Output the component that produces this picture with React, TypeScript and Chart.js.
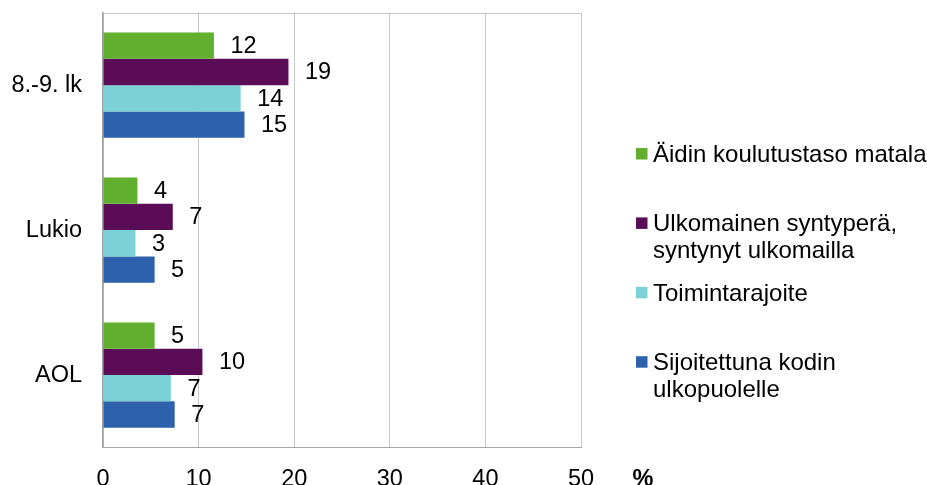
import React, { useEffect, useRef } from "react";
import { Chart, registerables } from "chart.js";

Chart.register(...registerables);

// ---- data ----
const categories = ["8.-9. lk", "Lukio", "AOL"];
const seriesNames = [
  "Äidin koulutustaso matala",
  "Ulkomainen syntyperä, syntynyt ulkomailla",
  "Toimintarajoite",
  "Sijoitettuna kodin ulkopuolelle",
];
const legendLines = [
  ["Äidin koulutustaso matala"],
  ["Ulkomainen syntyperä,", "syntynyt ulkomailla"],
  ["Toimintarajoite"],
  ["Sijoitettuna kodin", "ulkopuolelle"],
];
const aidinValues = [11.6, 3.6, 5.4];
const ulkomainenValues = [19.4, 7.3, 10.4];
const toimintaValues = [14.4, 3.4, 7.1];
const sijoitettuValues = [14.8, 5.4, 7.5];
const aidinLabels = ["12", "4", "5"];
const ulkomainenLabels = ["19", "7", "10"];
const toimintaLabels = ["14", "3", "7"];
const sijoitettuLabels = ["15", "5", "7"];
const xMin = 0;
const xMax = 50;
const xStep = 10;
const unitLabel = "%";

const colors = ["#62ae2f", "#5a0c57", "#7cd1d7", "#2e61ab"];
const FONT = "'Liberation Sans', Arial, sans-serif";
const FS = 23.5;
const LFS = 24;

export default function App() {
  const ref = useRef<HTMLCanvasElement | null>(null);

  useEffect(() => {
    if (!ref.current) return;
    const values = [aidinValues, ulkomainenValues, toimintaValues, sijoitettuValues];
    const labels = [aidinLabels, ulkomainenLabels, toimintaLabels, sijoitettuLabels];

    const overlay = {
      id: "overlay",
      afterDatasetsDraw(chart: any) {
        const ctx = chart.ctx;
        const ca = chart.chartArea;
        ctx.save();
        // top border
        ctx.strokeStyle = "#c6c6c6";
        ctx.lineWidth = 1;
        ctx.beginPath();
        ctx.moveTo(ca.left, Math.round(ca.top) + 0.5);
        ctx.lineTo(ca.right, Math.round(ca.top) + 0.5);
        ctx.stroke();
        // data labels
        ctx.font = `${FS}px ${FONT}`;
        ctx.fillStyle = "#000";
        ctx.textAlign = "left";
        ctx.textBaseline = "middle";
        chart.data.datasets.forEach((ds: any, di: number) => {
          const meta = chart.getDatasetMeta(di);
          meta.data.forEach((el: any, i: number) => {
            ctx.fillText(labels[di][i], el.x + 16.5, el.y + 1);
          });
        });
        // legend
        ctx.font = `${LFS}px ${FONT}`;
        const lx = 636;
        const firstBase = 161.7;
        const itemGap = 69.4;
        const lineH = 26.8;
        legendLines.forEach((lines, i) => {
          const base = firstBase + i * itemGap;
          ctx.fillStyle = colors[i];
          ctx.fillRect(lx, base - 13.7, 11.5, 11.5);
          ctx.fillStyle = "#000";
          ctx.textBaseline = "alphabetic";
          lines.forEach((t, j) => ctx.fillText(t, lx + 17, base + j * lineH));
        });
        // unit label
        ctx.font = `bold ${FS}px ${FONT}`;
        ctx.textAlign = "center";
        ctx.fillText(unitLabel, 643, 486);
        ctx.restore();
      },
    };

    const chart = new Chart(ref.current, {
      type: "bar",
      data: {
        labels: categories,
        datasets: seriesNames.map((name, i) => ({
          label: name,
          data: values[i],
          backgroundColor: colors[i],
          borderWidth: 0,
          barPercentage: 1,
          categoryPercentage: 0.726,
        })),
      },
      options: {
        indexAxis: "y",
        responsive: false,
        animation: false,
        layout: { padding: { top: 12.7, right: 346, left: 0, bottom: 0 } },
        plugins: { legend: { display: false }, tooltip: { enabled: false } },
        scales: {
          x: {
            min: xMin,
            max: xMax,
            ticks: {
              stepSize: xStep,
              color: "#000",
              font: { size: FS, family: FONT },
              padding: 18,
              maxRotation: 0,
            },
            grid: { color: "#c6c6c6", lineWidth: 1, drawTicks: false },
            border: { color: "#a6a6a6", width: 1 },
            afterFit: (s: any) => {
              s.height = 37.5;
              s.paddingLeft = 0;
              s.paddingRight = 0;
            },
          },
          y: {
            ticks: {
              color: "#000",
              font: { size: FS, family: FONT },
              padding: 21,
            },
            grid: { display: false, drawTicks: false },
            border: { color: "#a0a0a0", width: 1.5 },
            afterFit: (s: any) => {
              s.width = 103;
              s.paddingTop = 0;
              s.paddingBottom = 0;
            },
          },
        },
      },
      plugins: [overlay],
    } as any);
    return () => chart.destroy();
  }, []);

  return (
    <div style={{ position: "fixed", left: 0, top: 0, width: 927, height: 485, background: "#fff" }}>
      <canvas ref={ref} width={927} height={485} style={{ width: 927, height: 485, display: "block" }} />
    </div>
  );
}
